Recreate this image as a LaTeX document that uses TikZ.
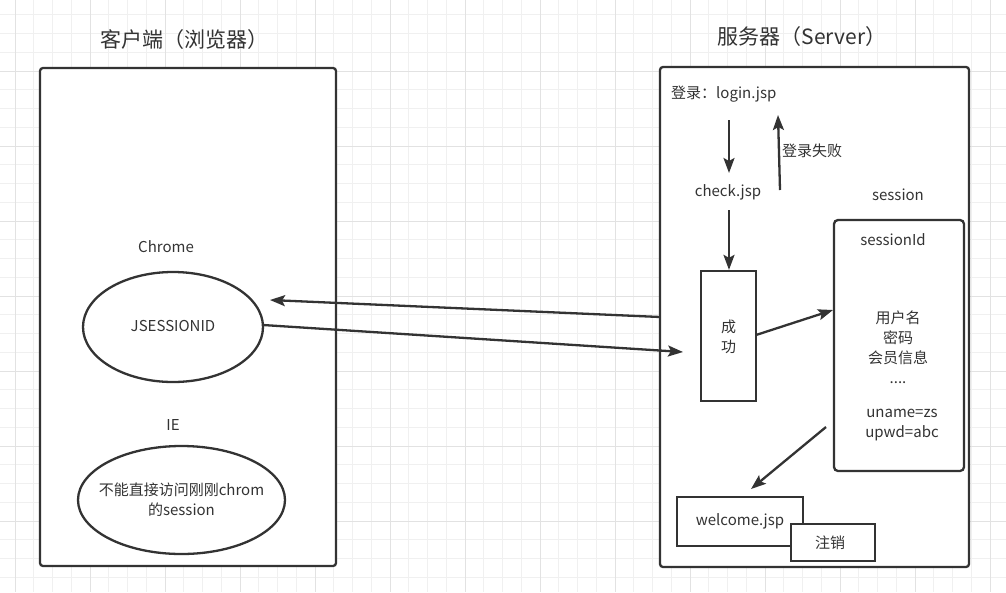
\documentclass[tikz,border=0pt]{standalone}
\usepackage{fontspec}
\setmainfont{Noto Sans CJK SC}
\usetikzlibrary{arrows.meta,shapes.geometric}
\definecolor{ink}{HTML}{333333}
\definecolor{gminor}{HTML}{F0F0F0}
\definecolor{gmajor}{HTML}{E2E2E2}
\begin{document}
\begin{tikzpicture}[x=1pt,y=-1pt,
  txt/.style={text=ink, font=\fontsize{15}{20}\selectfont, inner sep=0pt, align=center},
  ttl/.style={text=ink, font=\fontsize{21}{24}\selectfont, inner sep=0pt},
  bigbox/.style={draw=ink, line width=2.3pt, fill=white, rounded corners=3pt, inner sep=0pt},
  box/.style={draw=ink, line width=2.3pt, fill=white, inner sep=0pt},
  oval/.style={ellipse, draw=ink, line width=2.3pt, fill=white, inner sep=0pt},
  arr/.style={draw=ink, line width=2.3pt, -{Stealth[length=15pt,width=11pt,inset=3pt]}},
  minorline/.style={draw=gminor, line width=1pt},
  majorline/.style={draw=gmajor, line width=1pt},
]
\useasboundingbox (0,0) rectangle (1006,592);
\fill[white] (0,0) rectangle (1006,592);
% grid
\foreach \i in {1,...,53} {\draw[minorline] ({-3.75+18.75*\i},0) -- ({-3.75+18.75*\i},592);}
\foreach \j in {1,...,31} {\draw[minorline] (0,{-4+18.75*\j}) -- (1006,{-4+18.75*\j});}
\foreach \k in {0,...,13} {\draw[majorline] ({15+75*\k},0) -- ({15+75*\k},592);}
\foreach \k in {1,...,7} {\draw[majorline] (0,{-4+75*\k}) -- (1006,{-4+75*\k});}

% big containers
\node[bigbox, minimum width=296, minimum height=498] (cli) at (188,317) {};
\node[bigbox, minimum width=309, minimum height=500] (srv) at (814.5,317) {};
\node[ttl] (cliT) at (184,40) {客户端（浏览器）};
\node[ttl] (srvT) at (802,37) {服务器（Server）};

% client side
\node[txt] (chromeL) at (166,247) {Chrome};
\node[oval, minimum width=180, minimum height=110] (js) at (173,327) {};
\node[txt] (jsT) at (173,326) {JSESSIONID};
\node[txt] (ieL) at (173,425) {IE};
\node[oval, minimum width=207, minimum height=108] (ie) at (181.5,500) {};
\node[txt] (ieT) at (181.5,500) {不能直接访问刚刚chrom\\的session};

% server side
\node[txt, anchor=west] (login) at (671,94) {登录：login.jsp};
\node[txt] (check) at (728,192) {check.jsp};
\node[txt, anchor=west] (fail) at (782,151) {登录失败};
\node[box, minimum width=55, minimum height=130] (ok) at (728.5,336) {};
\node[txt] (okT) at (728.5,337) {成\\功};
\node[txt] (sessL) at (898,195) {session};
\node[bigbox, rounded corners=4pt, minimum width=130, minimum height=251] (sbox) at (899,345.5) {};
\node[txt] (sid) at (893,240) {sessionId};
\node[txt] (info) at (898,347) {用户名\\密码\\会员信息\\....};
\node[txt] (cred) at (902,425) {uname=zs\\upwd=abc};
\node[box, minimum width=126, minimum height=49] (wel) at (740,521.5) {};
\node[txt] (welT) at (740,521) {welcome.jsp};
\node[box, minimum width=84, minimum height=37] (out) at (833,542.5) {};
\node[txt] (outT) at (830,543) {注销};

% connector end points
\coordinate (a1s) at (729,120);
\coordinate (a1e) at (729,173);
\coordinate (a2s) at (780,190);
\coordinate (a2e) at (778,115);
\coordinate (a3s) at (729,210);
\coordinate (a4s) at (756,335);
\coordinate (a4e) at (833,310);
\coordinate (a5s) at (660,317);
\coordinate (a5e) at (270,300);
\coordinate (a6s) at (263,325);
\coordinate (a6e) at (683,352);
\coordinate (a7s) at (826,427);
\coordinate (a7e) at (751,489);

\draw[arr] (a1s) -- (a1e);
\draw[arr] (a2s) -- (a2e);
\draw[arr] (a3s) -- (ok.north -| a3s);
\draw[arr] (a4s) -- (a4e);
\draw[arr] (a5s) -- (a5e);
\draw[arr] (a6s) -- (a6e);
\draw[arr] (a7s) -- (a7e);
\end{tikzpicture}
\end{document}
